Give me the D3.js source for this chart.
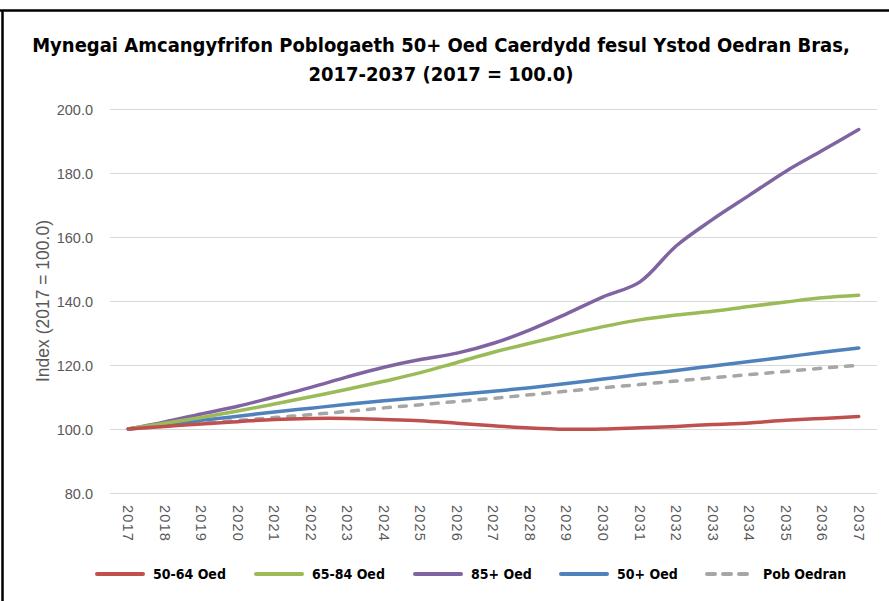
<!DOCTYPE html>
<html lang="cy">
<head>
<meta charset="utf-8">
<title>Mynegai Amcangyfrifon Poblogaeth 50+ Oed Caerdydd</title>
<script src="https://d3js.org/d3.v7.min.js"></script>
<style>
  body { margin: 0; background: #fff; }
  .grid line { stroke: #d9d9d9; stroke-width: 1; }
  .axis text { fill: #595959; font-family: "Liberation Sans", Arial, sans-serif; font-size: 14.5px; }
  .axis .domain { display: none; }
</style>
</head>
<body>
<div id="chart"></div>
<script>
var years = ["2017","2018","2019","2020","2021","2022","2023","2024","2025","2026","2027",
             "2028","2029","2030","2031","2032","2033","2034","2035","2036","2037"];

var oed5064 = [100, 100.8, 101.6, 102.3, 103.0, 103.3, 103.3, 103.0, 102.6, 101.8, 101.0,
               100.3, 99.9, 100.0, 100.4, 100.8, 101.4, 101.9, 102.7, 103.3, 103.9];
var oed6584 = [100, 101.8, 103.6, 105.6, 107.8, 110.1, 112.4, 114.9, 117.6, 120.8, 124.0,
               126.8, 129.5, 132.0, 134.1, 135.6, 136.8, 138.3, 139.7, 141.0, 141.8];
var oed85 = [100, 102.2, 104.7, 107.1, 110.0, 113.0, 116.3, 119.3, 121.7, 123.7, 126.8,
             131.0, 136.0, 141.3, 145.9, 157.2, 165.5, 173.0, 180.5, 187.0, 193.6];
var oed50 = [100, 101.3, 102.7, 104.0, 105.3, 106.5, 107.7, 108.8, 109.8, 110.8, 111.8,
             112.9, 114.2, 115.6, 117.0, 118.3, 119.7, 121.1, 122.5, 124.0, 125.3];
var pobOedran = [100, 100.9, 101.8, 102.7, 103.6, 104.5, 105.5, 106.6, 107.6, 108.6, 109.6,
                 110.7, 111.8, 112.9, 113.9, 115.0, 116.0, 117.0, 118.0, 119.0, 119.9];

var yTicks = [80, 100, 120, 140, 160, 180, 200];

var series = [
  {name: "50-64 Oed", values: oed5064, color: "#c0504d", dash: null},
  {name: "65-84 Oed", values: oed6584, color: "#9bbb59", dash: null},
  {name: "85+ Oed", values: oed85, color: "#8064a2", dash: null},
  {name: "50+ Oed", values: oed50, color: "#4f81bd", dash: null},
  {name: "Pob Oedran", values: pobOedran, color: "#a6a6a6", dash: "7,9"}
];

var width = 889, height = 601;
var margin = {top: 109, right: 12, bottom: 108, left: 110};

var svg = d3.select("#chart").append("svg")
  .attr("width", width)
  .attr("height", height);

// frame lines top and left
svg.append("line").attr("x1", 0).attr("x2", width).attr("y1", 10.5).attr("y2", 10.5)
  .attr("stroke", "#000").attr("stroke-width", 2.5);
svg.append("line").attr("x1", 2.5).attr("x2", 2.5).attr("y1", 10).attr("y2", height)
  .attr("stroke", "#000").attr("stroke-width", 2.5);

var x = d3.scaleBand()
  .domain(years)
  .range([margin.left, width - margin.right]);

var y = d3.scaleLinear()
  .domain([80, 200])
  .range([height - margin.bottom, margin.top]);

// gridlines
svg.append("g")
  .attr("class", "grid")
  .selectAll("line")
  .data(yTicks)
  .enter().append("line")
  .attr("x1", margin.left)
  .attr("x2", width - margin.right)
  .attr("y1", d => Math.round(y(d)) + 0.5)
  .attr("y2", d => Math.round(y(d)) + 0.5);

// y axis labels
svg.append("g")
  .attr("class", "axis")
  .attr("transform", "translate(" + (margin.left - 14) + ",0)")
  .call(d3.axisLeft(y).tickValues(yTicks).tickSize(0).tickFormat(d3.format(".1f")))
  .selectAll("text")
  .attr("dy", "0.35em");

// x axis labels, rotated
var xAxis = svg.append("g")
  .attr("class", "axis")
  .attr("transform", "translate(0," + (height - margin.bottom + 12) + ")")
  .call(d3.axisBottom(x).tickSize(0));

xAxis.selectAll("text")
  .attr("y", 0)
  .attr("x", 0)
  .attr("dy", "0.35em")
  .attr("text-anchor", "start")
  .attr("transform", "rotate(90)")
  .style("letter-spacing", "1.2px");

svg.append("text")
  .attr("transform", "translate(43," + y(140) + ") rotate(-90)")
  .attr("text-anchor", "middle")
  .attr("dy", "0.35em")
  .attr("fill", "#595959")
  .attr("font-family", "Liberation Sans, Arial, sans-serif")
  .attr("font-size", 17.5)
  .text("Index (2017 = 100.0)");

// lines
var line = d3.line()
  .x((d, i) => x(years[i]) + x.bandwidth() / 2)
  .y(d => y(d))
  .curve(d3.curveCatmullRom.alpha(0.5));

svg.append("g")
  .selectAll("path")
  .data(series.slice().reverse())
  .enter().append("path")
  .attr("d", d => line(d.values))
  .attr("fill", "none")
  .attr("stroke", d => d.color)
  .attr("stroke-width", 3.5)
  .attr("stroke-linecap", "round")
  .attr("stroke-linejoin", "round")
  .attr("stroke-dasharray", d => d.dash);

// title
var title = svg.append("text")
  .attr("text-anchor", "middle")
  .attr("font-family", "Liberation Sans Narrow, DejaVu Sans Condensed, sans-serif")
  .attr("font-weight", "bold")
  .attr("font-size", 20)
  .attr("fill", "#000");
title.append("tspan").attr("x", 441).attr("y", 52)
  .text("Mynegai Amcangyfrifon Poblogaeth 50+ Oed Caerdydd fesul Ystod Oedran Bras,");
title.append("tspan").attr("x", 441).attr("y", 81)
  .text("2017-2037 (2017 = 100.0)");

// legend
var legendX = [95, 254, 413, 559, 705];
var legend = svg.append("g")
  .selectAll("g")
  .data(series)
  .enter().append("g")
  .attr("transform", (d, i) => "translate(" + legendX[i] + ",574)");

legend.append("line")
  .attr("x1", 2)
  .attr("x2", d => d.dash ? 44 : 48)
  .attr("stroke", d => d.color)
  .attr("stroke-width", 4)
  .attr("stroke-linecap", "round")
  .attr("stroke-dasharray", d => d.dash ? "8,8" : null);

legend.append("text")
  .attr("x", 58)
  .attr("dy", "0.35em")
  .attr("font-family", "Liberation Sans Narrow, DejaVu Sans Condensed, sans-serif")
  .attr("font-weight", "bold")
  .attr("font-size", 14)
  .attr("fill", "#000")
  .text(d => d.name);
</script>
</body>
</html>
